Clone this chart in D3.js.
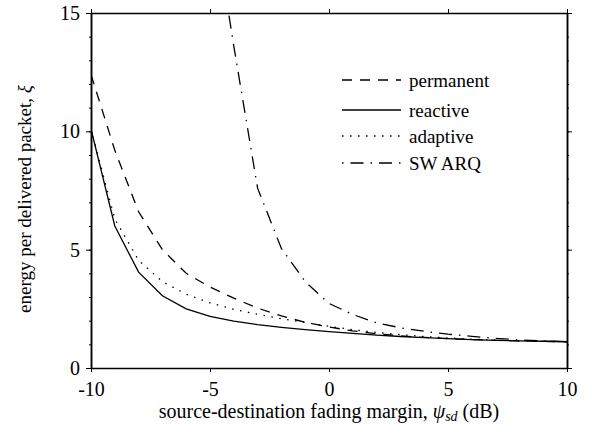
<!DOCTYPE html>
<html><head><meta charset="utf-8">
<script src="https://cdn.jsdelivr.net/npm/d3@7/dist/d3.min.js"></script>
<style>body{margin:0;background:#fff}</style>
</head><body><svg id="c" width="592" height="434"></svg>
<script>
const xMargin = [-10,-9,-8,-7,-6,-5,-4,-3,-2,-1,0,1,2,3,4,5,6,7,8,9,10];
const permanent = [12.4,9.2,6.6,5.0,4.0,3.42,2.95,2.53,2.2,1.93,1.73,1.57,1.45,1.36,1.29,1.24,1.2,1.17,1.15,1.13,1.11];
const reactive = [10.1,6.0,4.05,3.05,2.5,2.18,1.98,1.83,1.72,1.62,1.54,1.46,1.39,1.33,1.28,1.24,1.2,1.17,1.15,1.13,1.11];
const adaptive = [10.1,6.3,4.55,3.65,3.12,2.75,2.48,2.27,2.08,1.92,1.76,1.62,1.5,1.41,1.33,1.27,1.22,1.18,1.15,1.13,1.11];
const swArqX = [-5,-4,-3,-2,-1,0,1,2,3,4,5,6,7,8,9,10];
const swArq = [20,13.6,7.6,5.05,3.65,2.73,2.26,1.91,1.7,1.55,1.43,1.34,1.25,1.19,1.15,1.11];
const xTicks = [-10,-5,0,5,10];
const yTicks = [0,5,10,15];
const yMinor = d3.range(0,16,1);

const FONT = "Liberation Serif";
const L=91,R=567,T=13,B=368;
const svg=d3.select("#c");
const x=d3.scaleLinear().domain([-10,10]).range([L,R]);
const y=d3.scaleLinear().domain([0,15]).range([B,T]);

svg.append("defs").append("clipPath").attr("id","clip").append("rect")
  .attr("x",L).attr("y",T).attr("width",R-L).attr("height",B-T);

const fmt=d=>d<0?"-"+Math.abs(d):String(d);
const gb=svg.append("g").attr("transform",`translate(0,${B})`)
  .call(d3.axisBottom(x).tickValues(xTicks).tickSize(4).tickSizeOuter(0).tickPadding(10).tickFormat(fmt));
const gt=svg.append("g").attr("transform",`translate(0,${T})`)
  .call(d3.axisTop(x).tickValues(xTicks).tickSize(4).tickSizeOuter(0).tickFormat(""));
const gl=svg.append("g").attr("transform",`translate(${L},0)`)
  .call(d3.axisLeft(y).tickValues(yMinor).tickSize(2).tickSizeOuter(0).tickFormat(""));
const gl2=svg.append("g").attr("transform",`translate(${L},0)`)
  .call(d3.axisLeft(y).tickValues(yTicks).tickSize(5).tickSizeOuter(0).tickPadding(6).tickFormat(d3.format("d")));
const gr=svg.append("g").attr("transform",`translate(${R},0)`)
  .call(d3.axisRight(y).tickValues(yMinor).tickSize(2).tickSizeOuter(0).tickFormat(""));
const gr2=svg.append("g").attr("transform",`translate(${R},0)`)
  .call(d3.axisRight(y).tickValues(yTicks).tickSize(5).tickSizeOuter(0).tickFormat(""));
[gb,gt,gl,gl2,gr,gr2].forEach(g=>{
  g.attr("font-family",null).attr("font-size",null);
  g.selectAll(".domain").attr("stroke","#000").attr("stroke-width",1.5);
  g.selectAll(".tick line").attr("stroke","#000").attr("stroke-width",1);
  g.selectAll("text").attr("fill","#000").style("font-family",FONT).style("font-size","20px");
});

const series=[
  {name:"permanent",xs:xMargin,v:permanent,dash:"10,8"},
  {name:"reactive",xs:xMargin,v:reactive,dash:null},
  {name:"adaptive",xs:xMargin,v:adaptive,dash:"1.5,6.5"},
  {name:"SW ARQ",xs:swArqX,v:swArq,dash:"1.5,7,13,7"}
];
const line=d3.line().x(d=>x(d[0])).y(d=>y(d[1]));
const pg=svg.append("g").attr("clip-path","url(#clip)");
series.forEach(s=>{
  pg.append("path").datum(s.xs.map((xv,i)=>[xv,s.v[i]]))
    .attr("d",line).attr("fill","none").attr("stroke","#000").attr("stroke-width",1.3)
    .attr("stroke-dasharray",s.dash);
});

const legY=[80,110,136,163];
series.forEach((s,i)=>{
  svg.append("line").attr("x1",342).attr("x2",401).attr("y1",legY[i]).attr("y2",legY[i])
    .attr("stroke","#000").attr("stroke-width",1.3).attr("stroke-dasharray",s.dash);
  svg.append("text").attr("x",409).attr("y",legY[i]+6.5)
    .style("font-family",FONT).style("font-size","19px").text(s.name);
});

const xl=svg.append("text").attr("x",329).attr("y",418).attr("text-anchor","middle")
  .style("font-family",FONT).style("font-size","20px");
xl.append("tspan").text("source-destination fading margin, ");
xl.append("tspan").style("font-style","italic").text("ψ");
xl.append("tspan").attr("dy",3).style("font-size","14px").style("font-style","italic").text("sd");
xl.append("tspan").attr("dy",-3).text(" (dB)");
const yl=svg.append("text").attr("transform",`translate(31,199) rotate(-90)`).attr("text-anchor","middle")
  .style("font-family",FONT).style("font-size","19px");
yl.append("tspan").text("energy per delivered packet, ");
yl.append("tspan").style("font-style","italic").text("ξ");
</script></body></html>
